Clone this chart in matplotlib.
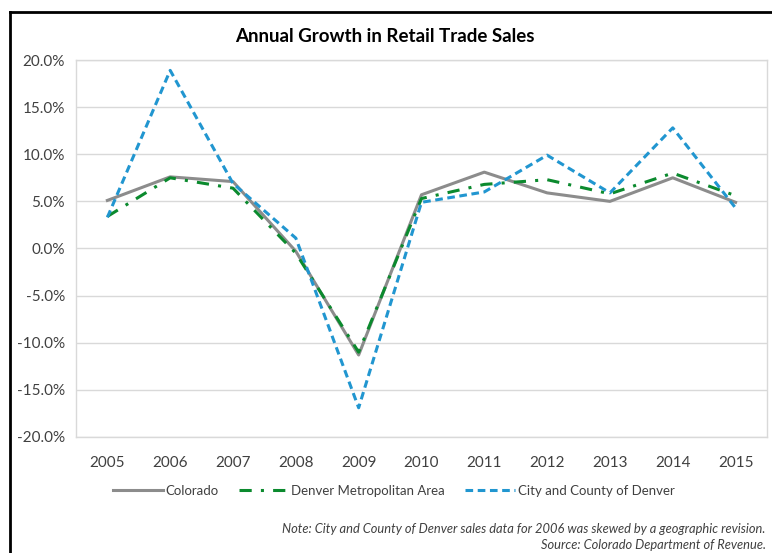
import matplotlib
matplotlib.use("Agg")
import matplotlib.pyplot as plt
from matplotlib.lines import Line2D

plt.rcParams['font.family'] = ['Lato', 'DejaVu Sans']

years = ["2005", "2006", "2007", "2008", "2009", "2010", "2011", "2012", "2013", "2014", "2015"]
colorado = [5.1, 7.6, 7.1, -0.3, -11.3, 5.7, 8.1, 5.9, 5.0, 7.5, 4.9]
denver_metro = [3.4, 7.5, 6.4, -0.5, -11.0, 5.3, 6.8, 7.3, 5.8, 8.0, 5.6]
denver_city = [3.3, 18.9, 6.9, 1.1, -16.9, 4.9, 6.0, 9.9, 5.9, 12.8, 4.3]
yticks = [20, 15, 10, 5, 0, -5, -10, -15, -20]
ytick_labels = ["20.0%", "15.0%", "10.0%", "5.0%", "0.0%", "-5.0%", "-10.0%", "-15.0%", "-20.0%"]

fig = plt.figure(figsize=(7.72, 5.53), dpi=100)
ax = fig.add_axes([0.0984, 0.2098, 0.8951, 0.6817])

x = list(range(len(years)))
ax.plot(x, colorado, color="#8c8c8c", lw=2.2, ls="-", label="Colorado", zorder=3)
ax.plot(x, denver_metro, color="#0b8a2e", lw=2.2, ls=(0, (4, 3, 1, 3)), label="Denver Metropolitan Area", zorder=4)
ax.plot(x, denver_city, color="#2196d0", lw=2.2, ls=(0, (2.5, 1.5)), label="City and County of Denver", zorder=5)

ax.set_xlim(-0.5, len(years) - 0.5)
ax.set_ylim(-20, 20)
ax.set_xticks(x)
ax.set_xticklabels(years, fontsize=11, color="#404040")
ax.set_yticks(yticks)
ax.set_yticklabels(ytick_labels, fontsize=11, color="#404040")
ax.tick_params(axis='both', length=0, pad=8)
ax.tick_params(axis='x', pad=14)
ax.grid(axis='y', color="#d9d9d9", lw=1)
ax.set_axisbelow(True)
for s in ax.spines.values():
    s.set_color("#d9d9d9")
    s.set_linewidth(1)

fig.text(0.498, 0.934, "Annual Growth in Retail Trade Sales", ha="center", va="center",
         fontsize=13.5, fontweight="bold", color="#000000")

handles = [
    Line2D([0], [0], color="#8c8c8c", lw=2.2, ls="-"),
    Line2D([0], [0], color="#0b8a2e", lw=2.2, ls=(0, (4, 3, 1, 3))),
    Line2D([0], [0], color="#2196d0", lw=2.2, ls=(0, (2.5, 1.5))),
]
fig.legend(handles, ["Colorado", "Denver Metropolitan Area", "City and County of Denver"],
           loc="center", bbox_to_anchor=(0.51, 0.113), ncol=3, frameon=False,
           fontsize=9.5, handlelength=3.8, handletextpad=0.2, columnspacing=1.5,
           labelcolor="#404040")

fig.text(0.992, 0.043, "Note: City and County of Denver sales data for 2006 was skewed by a geographic revision.",
         ha="right", va="center", fontsize=9.3, style="italic", color="#404040")
fig.text(0.992, 0.015, "Source: Colorado Department of Revenue.",
         ha="right", va="center", fontsize=9.3, style="italic", color="#404040")

# outer frame (left and top)
fig.add_artist(Line2D([0.0135, 0.0135], [0.0, 0.979], color="black", lw=2, transform=fig.transFigure))
fig.add_artist(Line2D([0.0135, 1.0], [0.979, 0.979], color="black", lw=2, transform=fig.transFigure))

fig.savefig("out.png", dpi=100)
